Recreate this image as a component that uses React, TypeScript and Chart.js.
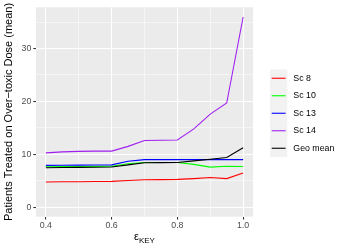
import React, { useEffect, useRef } from "react";
import { Chart, registerables } from "chart.js";

Chart.register(...registerables);

const epsilon = [0.4, 0.45, 0.5, 0.55, 0.6, 0.65, 0.7, 0.75, 0.8, 0.85, 0.9, 0.95, 1.0];
const sc8 = [4.76, 4.8, 4.82, 4.85, 4.88, 5.05, 5.2, 5.22, 5.25, 5.4, 5.6, 5.4, 6.45];
const sc10 = [7.65, 7.68, 7.7, 7.72, 7.75, 8.2, 8.45, 8.45, 8.45, 8.1, 7.57, 7.75, 7.7];
const sc13 = [7.9, 7.92, 7.95, 7.97, 8.0, 8.7, 9.0, 9.0, 9.0, 9.0, 9.0, 9.0, 9.0];
const sc14 = [10.26, 10.45, 10.55, 10.6, 10.6, 11.5, 12.6, 12.65, 12.7, 14.8, 17.6, 19.7, 35.96];
const geoMean = [7.45, 7.5, 7.52, 7.55, 7.6, 8.0, 8.4, 8.42, 8.45, 8.75, 9.07, 9.4, 11.25];

const seriesNames = ["Sc 8", "Sc 10", "Sc 13", "Sc 14", "Geo mean"];
const seriesColors = ["#FF0000", "#00FF00", "#0000FF", "#A020F0", "#000000"];
const seriesValues = [sc8, sc10, sc13, sc14, geoMean];

const xTicks = [0.4, 0.5, 0.6, 0.7, 0.8, 0.9, 1.0];
const xMajor = [0.4, 0.6, 0.8, 1.0];
const yTicks = [0, 5, 10, 15, 20, 25, 30, 35];
const yMajor = [0, 10, 20, 30];

const yTitle = "Patients Treated on Over\u2212toxic Dose (mean)";
const xTitleMain = "\u03B5";
const xTitleSub = "KEY";

const FONT = "'Liberation Sans', Arial, Helvetica, sans-serif";

const isMajor = (arr: number[], v: number) => arr.some((m) => Math.abs(m - v) < 1e-6);

export default function App() {
  const ref = useRef<HTMLCanvasElement | null>(null);

  useEffect(() => {
    document.body.style.margin = "0";
    const canvas = ref.current;
    if (!canvas) return;

    const decor = {
      id: "decor",
      beforeDraw(chart: any) {
        const { ctx, chartArea } = chart;
        ctx.save();
        ctx.fillStyle = "#FFFFFF";
        ctx.fillRect(0, 0, chart.width, chart.height);
        ctx.fillStyle = "#EBEBEB";
        ctx.fillRect(chartArea.left, chartArea.top, chartArea.right - chartArea.left, chartArea.bottom - chartArea.top);
        ctx.restore();
      },
      afterDraw(chart: any) {
        const { ctx, chartArea } = chart;
        ctx.save();
        ctx.fillStyle = "#000000";
        ctx.font = `11px ${FONT}`;
        ctx.textAlign = "center";
        ctx.textBaseline = "middle";
        ctx.translate(9, (chartArea.top + chartArea.bottom) / 2);
        ctx.rotate(-Math.PI / 2);
        ctx.fillText(yTitle, 0, 0);
        ctx.restore();

        ctx.save();
        ctx.fillStyle = "#000000";
        ctx.textBaseline = "alphabetic";
        ctx.textAlign = "left";
        ctx.font = `11px ${FONT}`;
        const wMain = ctx.measureText(xTitleMain).width;
        ctx.font = `8px ${FONT}`;
        const wSub = ctx.measureText(xTitleSub).width;
        const cx = (chartArea.left + chartArea.right) / 2;
        const x0 = cx - (wMain + wSub) / 2;
        ctx.font = `11px ${FONT}`;
        ctx.fillText(xTitleMain, x0, 240);
        ctx.font = `8px ${FONT}`;
        ctx.fillText(xTitleSub, x0 + wMain, 243);
        ctx.restore();

        ctx.save();
        const keyX = 270;
        const keyW = 17.3;
        const keyH = 17.5;
        const top = 69.5;
        ctx.fillStyle = "#F2F2F2";
        ctx.fillRect(keyX, top, keyW, keyH * seriesNames.length);
        ctx.font = `8.8px ${FONT}`;
        ctx.textAlign = "left";
        ctx.textBaseline = "middle";
        seriesNames.forEach((name, i) => {
          const cy = top + keyH * i + keyH / 2;
          ctx.strokeStyle = seriesColors[i];
          ctx.lineWidth = 1.1;
          ctx.beginPath();
          ctx.moveTo(keyX + 1.7, cy);
          ctx.lineTo(keyX + keyW - 1.7, cy);
          ctx.stroke();
          ctx.fillStyle = "#000000";
          ctx.fillText(name, 293.3, cy);
        });
        ctx.restore();
      },
    };

    const chart = new Chart(canvas, {
      type: "line",
      data: {
        datasets: seriesNames.map((name, i) => ({
          label: name,
          data: epsilon.map((x, j) => ({ x, y: seriesValues[i][j] })),
          borderColor: seriesColors[i],
          backgroundColor: seriesColors[i],
          borderWidth: 1.1,
          pointRadius: 0,
          tension: 0,
          fill: false,
          order: seriesNames.length - i,
        })),
      },
      options: {
        animation: false,
        responsive: false,
        events: [],
        layout: { padding: { top: 5, right: 96, left: 0, bottom: 0 } },
        plugins: {
          legend: { display: false },
          tooltip: { enabled: false },
          title: { display: false },
        },
        scales: {
          x: {
            type: "linear",
            min: 0.37,
            max: 1.03,
            afterBuildTicks: (s: any) => {
              s.ticks = xTicks.map((v) => ({ value: v }));
            },
            afterFit: (s: any) => {
              s.height = 32.3;
            },
            border: { display: false },
            grid: {
              color: "#FFFFFF",
              lineWidth: (c: any) => (isMajor(xMajor, c.tick?.value) ? 1.07 : 0.53),
              drawTicks: true,
              tickLength: 2.7,
              tickColor: (c: any) => (isMajor(xMajor, c.tick?.value) ? "#333333" : "rgba(0,0,0,0)"),
              tickWidth: 1.07,
            },
            ticks: {
              autoSkip: false,
              maxRotation: 0,
              padding: 0.5,
              color: "#4D4D4D",
              font: { family: FONT, size: 8.8 },
              callback: (v: any) => (isMajor(xMajor, Number(v)) ? Number(v).toFixed(1) : ""),
            },
          },
          y: {
            type: "linear",
            min: -1.8,
            max: 37.8,
            afterBuildTicks: (s: any) => {
              s.ticks = yTicks.map((v) => ({ value: v }));
            },
            afterFit: (s: any) => {
              s.width = 36;
            },
            border: { display: false },
            grid: {
              color: "#FFFFFF",
              lineWidth: (c: any) => (isMajor(yMajor, c.tick?.value) ? 1.07 : 0.53),
              drawTicks: true,
              tickLength: 2.7,
              tickColor: (c: any) => (isMajor(yMajor, c.tick?.value) ? "#333333" : "rgba(0,0,0,0)"),
              tickWidth: 1.07,
            },
            ticks: {
              autoSkip: false,
              padding: 2,
              color: "#4D4D4D",
              font: { family: FONT, size: 8.8 },
              callback: (v: any) => (isMajor(yMajor, Number(v)) ? String(v) : ""),
            },
          },
        },
      },
      plugins: [decor],
    } as any);

    return () => chart.destroy();
  }, []);

  return <canvas ref={ref} width={349} height={249} style={{ display: "block", width: 349, height: 249 }} />;
}
